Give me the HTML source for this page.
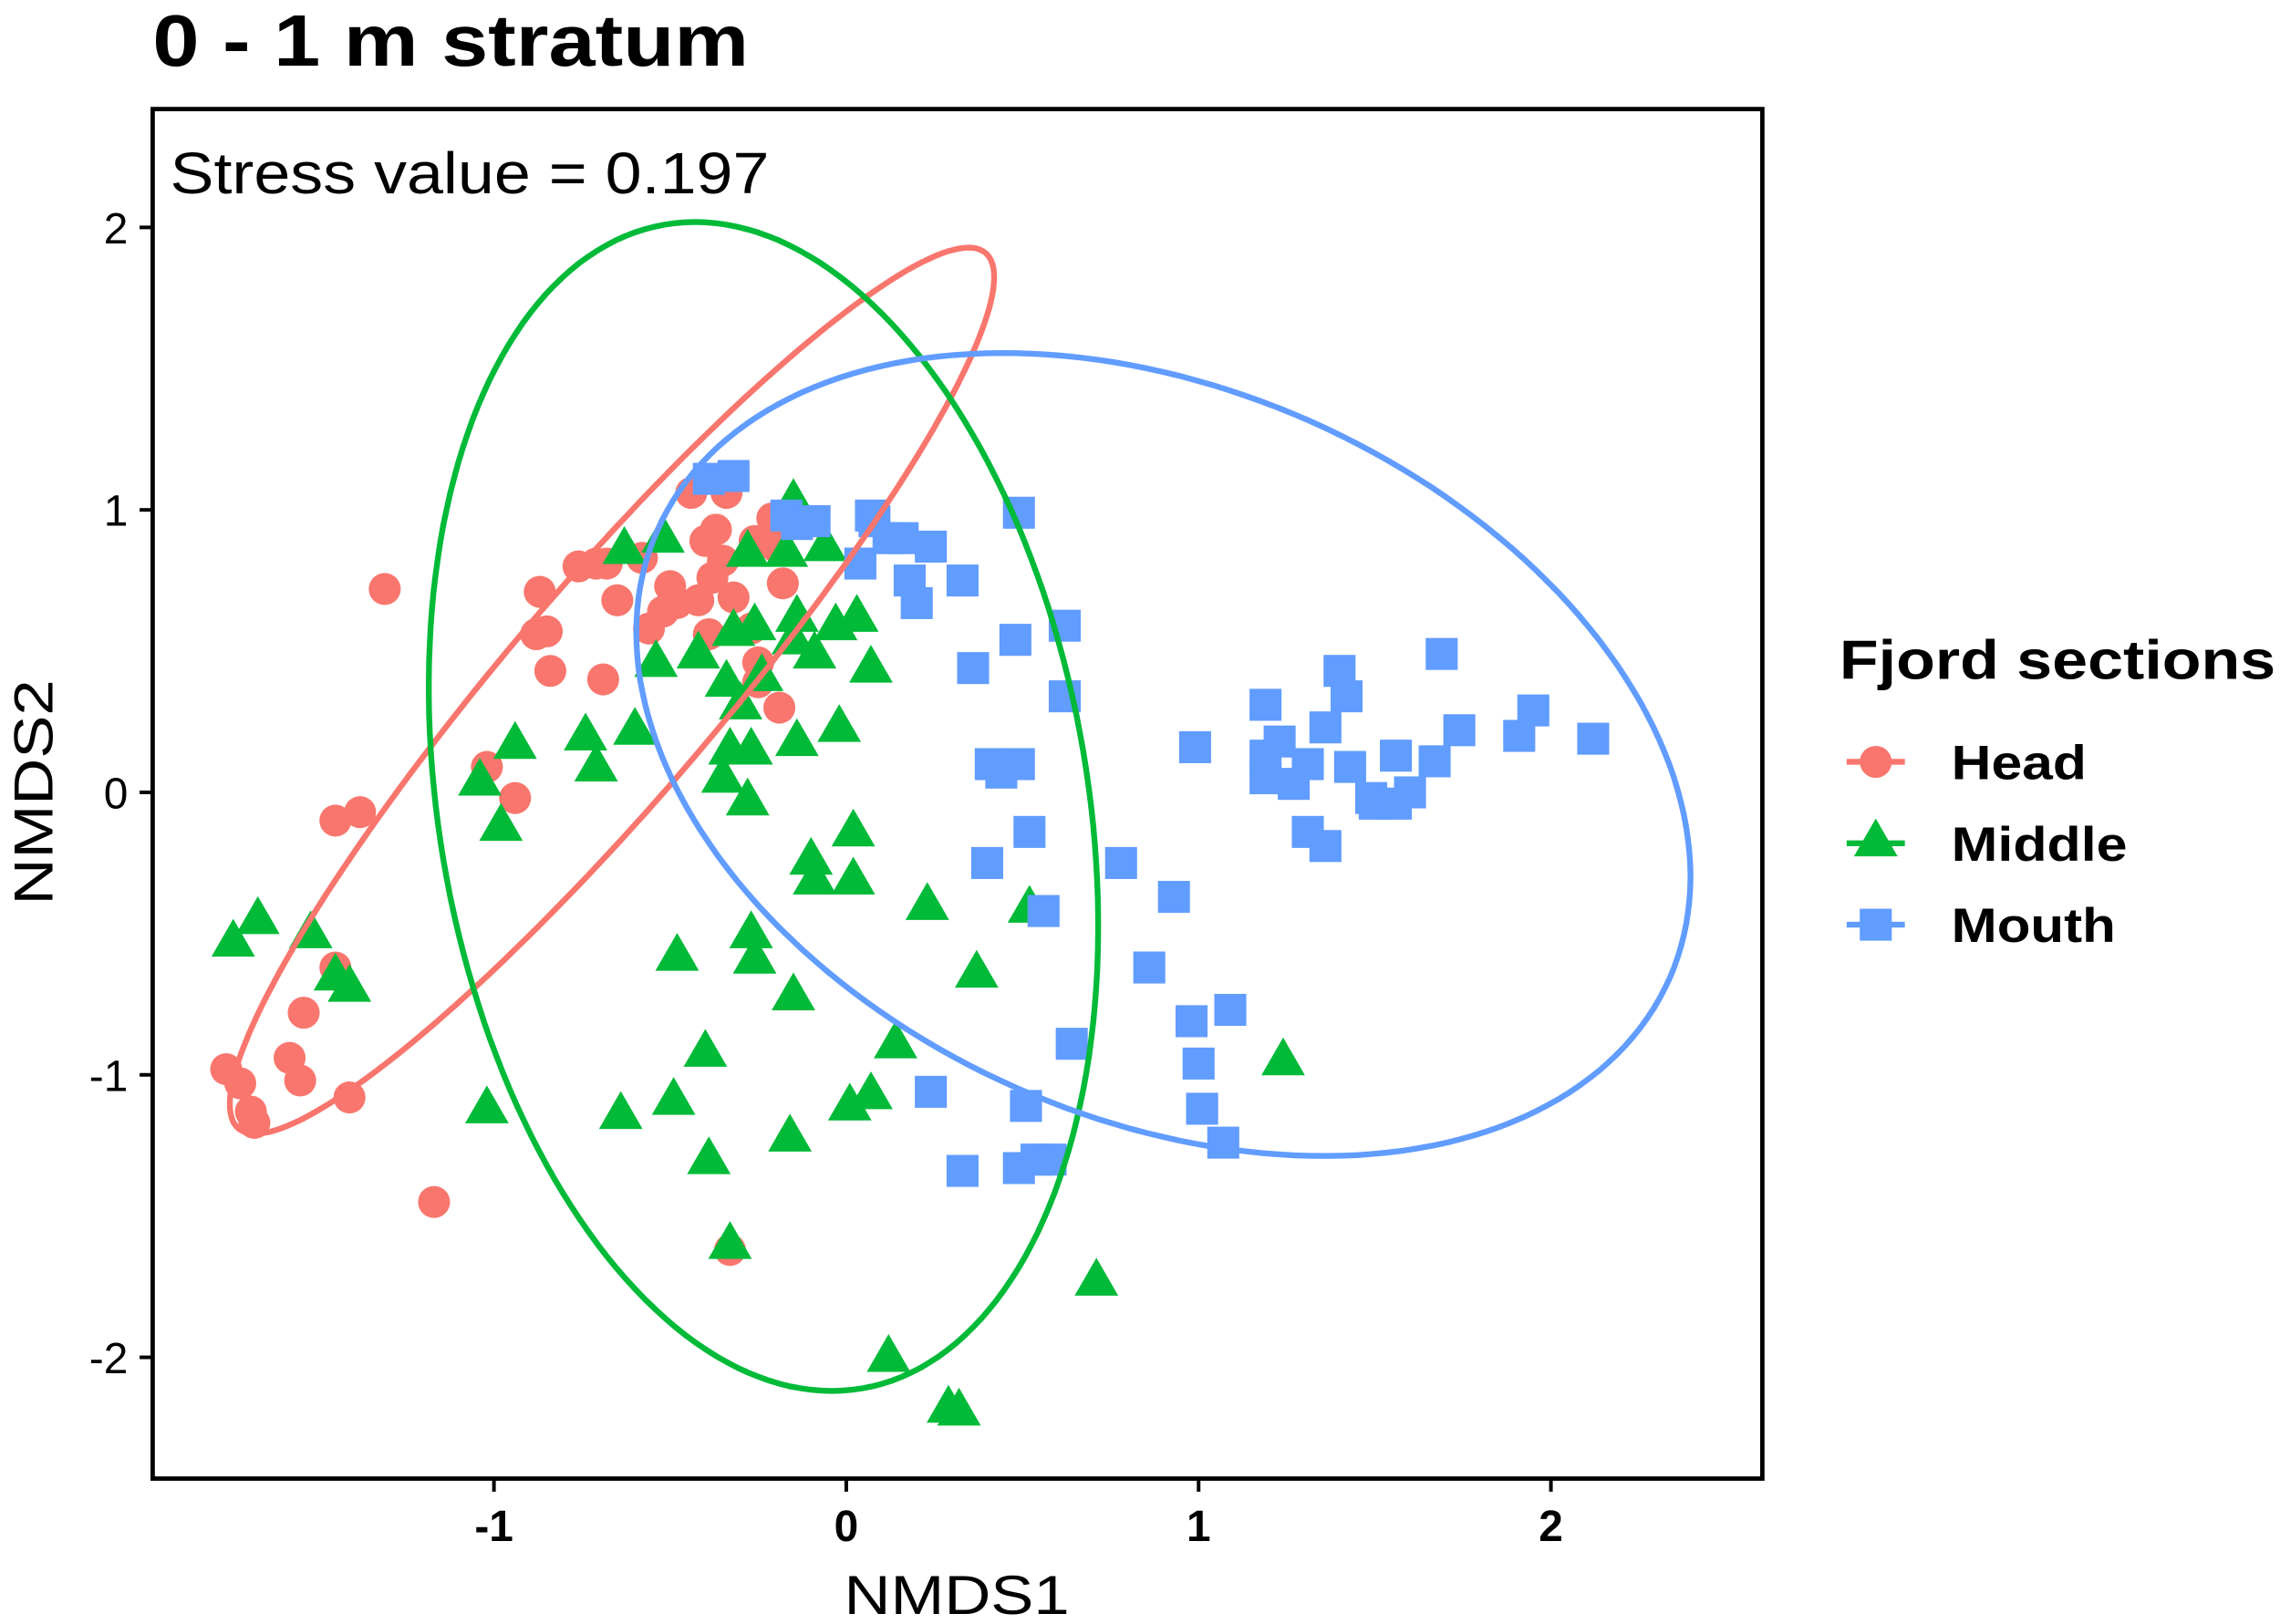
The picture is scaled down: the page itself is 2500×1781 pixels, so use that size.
<!DOCTYPE html>
<html><head><meta charset="utf-8"><style>
html,body{margin:0;padding:0;background:#fff;}
svg{display:block;font-family:"Liberation Sans",Arial,sans-serif;}
</style></head><body>
<svg id="chart" width="2500" height="1781" viewBox="0 0 1568 1117" xmlns="http://www.w3.org/2000/svg">
<rect width="1568" height="1117" fill="#fff"/>
<text x="105" y="45" font-size="50" font-weight="bold" textLength="410" lengthAdjust="spacingAndGlyphs">0 - 1 m stratum</text>
<g id="marks"></g>
<rect x="105" y="75" width="1107" height="942" fill="none" stroke="#000" stroke-width="3"/>
<text x="117" y="133" font-size="40" textLength="412" lengthAdjust="spacingAndGlyphs">Stress value = 0.197</text>
<g id="axes"></g>
<text x="658" y="1110" font-size="38" text-anchor="middle" textLength="155" lengthAdjust="spacingAndGlyphs">NMDS1</text>
<text transform="translate(36,545) rotate(-90)" font-size="38" text-anchor="middle" textLength="155" lengthAdjust="spacingAndGlyphs">NMDS2</text>
<g>
<text x="1265" y="467" font-size="38" font-weight="bold" textLength="300" lengthAdjust="spacingAndGlyphs">Fjord sections</text>
<line x1="1270" y1="524" x2="1310" y2="524" stroke="#F8766D" stroke-width="4"/>
<circle cx="1290" cy="524" r="11" fill="#F8766D"/>
<text x="1342" y="536" font-size="33" font-weight="bold" textLength="93" lengthAdjust="spacingAndGlyphs">Head</text>
<line x1="1270" y1="580" x2="1310" y2="580" stroke="#00BA38" stroke-width="4"/>
<polygon points="1290,563 1305,589 1275,589" fill="#00BA38"/>
<text x="1342" y="592" font-size="33" font-weight="bold" textLength="121" lengthAdjust="spacingAndGlyphs">Middle</text>
<line x1="1270" y1="636" x2="1310" y2="636" stroke="#619CFF" stroke-width="4"/>
<rect x="1279" y="625" width="22" height="22" fill="#619CFF"/>
<text x="1342" y="648" font-size="33" font-weight="bold" textLength="113" lengthAdjust="spacingAndGlyphs">Mouth</text>
</g>
</svg>
<script>
const xTicks=[-1,0,1,2];
const yTicks=[-2,-1,0,1,2];
const headX=[-1.31,-1.02,-0.94,-1.45,-1.38,-1.45,-1.54,-1.58,-1.55,-1.76,-1.72,-1.69,-1.68,-1.41,-1.17,-0.33,-0.88,-0.84,-0.69,-0.87,-0.85,-0.76,-0.68,-0.65,-0.58,-0.56,-0.48,-0.44,-0.40,-0.38,-0.50,-0.39,-0.37,-0.35,-0.34,-0.32,-0.26,-0.21,-0.20,-0.25,-0.25,-0.19,-0.18,-0.27,-0.42,-0.52,-0.71];
const headY=[0.72,0.09,-0.02,-0.10,-0.07,-0.62,-0.78,-0.94,-1.02,-0.98,-1.03,-1.13,-1.17,-1.08,-1.45,-1.62,0.56,0.43,0.40,0.71,0.57,0.80,0.81,0.68,0.83,0.58,0.67,1.06,0.89,0.76,0.73,0.56,0.93,0.82,1.06,0.69,0.89,0.97,0.87,0.46,0.39,0.30,0.74,0.58,0.68,0.64,0.81];
const midX=[-1.74,-1.67,-1.52,-1.45,-1.41,-1.04,-0.94,-0.98,-0.74,-0.71,-0.60,-0.54,-0.63,-0.52,-0.15,-0.28,-0.17,-0.06,-0.32,-0.26,-0.14,-0.03,0.03,0.07,-0.42,-0.34,-0.30,-0.24,-0.15,-0.09,-0.33,-0.27,-0.14,-0.02,-0.35,-0.28,-0.10,-0.09,0.02,0.02,0.23,0.52,0.37,-0.48,-0.27,-0.26,-0.15,-0.40,0.14,-1.02,-0.64,-0.49,-0.16,-0.39,0.01,0.07,1.24,0.71,0.12,0.32,0.29,-0.33];
const midY=[-0.53,-0.45,-0.50,-0.65,-0.69,0.04,0.17,-0.12,0.20,0.09,0.22,0.46,0.86,0.90,1.03,0.85,0.85,0.87,0.57,0.59,0.62,0.59,0.62,0.44,0.49,0.39,0.31,0.41,0.54,0.49,0.15,0.15,0.18,0.23,0.05,-0.03,-0.24,-0.31,-0.14,-0.31,-0.40,-0.41,-0.64,-0.58,-0.50,-0.59,-0.72,-0.92,-0.89,-1.12,-1.14,-1.09,-1.22,-1.30,-1.11,-1.07,-0.95,-1.73,-2.00,-2.19,-2.18,-1.60];
const mouthX=[-0.39,-0.32,-0.17,-0.14,-0.09,0.07,0.08,0.04,0.12,0.16,0.24,0.18,0.20,0.33,0.49,0.62,0.48,0.36,0.62,0.41,0.49,0.44,0.52,0.40,0.56,0.78,0.93,0.86,0.98,1.00,1.01,1.07,1.09,0.64,0.24,0.51,0.33,0.49,0.54,0.58,0.99,1.19,1.23,1.19,1.31,1.40,1.42,1.36,1.43,1.49,1.50,1.56,1.60,1.69,1.67,1.74,1.91,1.95,2.12,1.31,1.36,1.19,1.27,1.56];
const mouthY=[1.11,1.12,0.98,0.95,0.96,0.98,0.96,0.81,0.90,0.90,0.87,0.75,0.67,0.75,0.99,0.59,0.54,0.44,0.34,0.10,0.10,0.07,-0.14,-0.25,-0.42,-0.25,-0.37,-0.62,-0.81,-0.96,-1.12,-1.24,-0.77,-0.89,-1.06,-1.11,-1.34,-1.33,-1.30,-1.30,0.16,0.31,0.18,0.05,0.10,0.43,0.34,0.23,0.09,-0.02,-0.04,0.13,0.00,0.49,0.11,0.22,0.20,0.29,0.19,-0.14,-0.19,0.13,0.03,-0.04];
// ellipses: center, axis vector a, axis vector b (data units)
const headEllipse=[-0.665,0.36,1.06,1.55,0.23,-0.24];
const midEllipse=[-0.235,-0.05,-0.194,2.069,0.93,0];
const mouthEllipse=[0.90,0.134,1.496,-0.432,0,-1.354];

const NS="http://www.w3.org/2000/svg";
const sx=v=>582+v*242.3;
const sy=v=>545-v*194.3;
const marks=document.getElementById('marks');
const axes=document.getElementById('axes');
function mk(tag,attrs,parent){const e=document.createElementNS(NS,tag);for(const k in attrs)e.setAttribute(k,attrs[k]);parent.appendChild(e);return e;}

for(let i=0;i<headX.length;i++){
  const e=mk('circle',{cx:sx(headX[i]),cy:sy(headY[i]),r:11,fill:'#F8766D'},marks);
  
  
}
for(let i=0;i<midX.length;i++){
  const cx=sx(midX[i]),cy=sy(midY[i]);
  const e=mk('polygon',{points:`${cx},${cy-16} ${cx+15},${cy+10} ${cx-15},${cy+10}`,fill:'#00BA38'},marks);
  
  
}
for(let i=0;i<mouthX.length;i++){
  const e=mk('rect',{x:sx(mouthX[i])-11,y:sy(mouthY[i])-11,width:22,height:22,fill:'#619CFF'},marks);
  
  
}
function ell(p,color,name){
  let d='';
  for(let k=0;k<=200;k++){const t=k/200*2*Math.PI;
    const x=p[0]+p[2]*Math.cos(t)+p[4]*Math.sin(t);
    const y=p[1]+p[3]*Math.cos(t)+p[5]*Math.sin(t);
    d+=(k?'L':'M')+sx(x).toFixed(1)+','+sy(y).toFixed(1);}
  const e=mk('path',{d:d+'Z',fill:'none',stroke:color,'stroke-width':4},marks);
  
  
}
ell(headEllipse,'#F8766D','head-ellipse');
ell(midEllipse,'#00BA38','middle-ellipse');
ell(mouthEllipse,'#619CFF','mouth-ellipse');

xTicks.forEach(v=>{
  const t=mk('line',{x1:sx(v),x2:sx(v),y1:1017,y2:1026,stroke:'#000','stroke-width':2.5},axes);
  
  
  const l=mk('text',{x:sx(v),y:1060,'font-size':30,'font-weight':'bold','text-anchor':'middle'},axes);
  l.textContent=v;
  
  
});
yTicks.forEach(v=>{
  const t=mk('line',{x1:96,x2:105,y1:sy(v),y2:sy(v),stroke:'#000','stroke-width':2.5},axes);
  
  
  const l=mk('text',{x:88,y:sy(v)+11,'font-size':30,'text-anchor':'end'},axes);
  l.textContent=v;
  
  
});
</script>
</body></html>
